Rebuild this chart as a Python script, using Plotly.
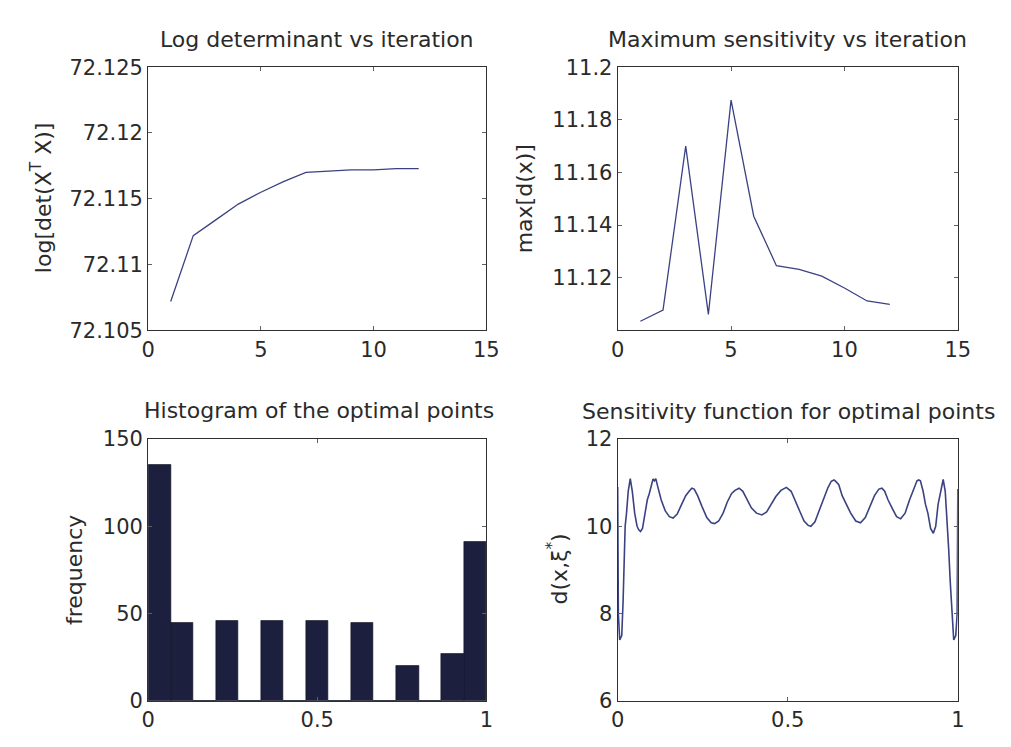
import numpy as np
import plotly.graph_objects as go

W, H = 1011, 747

# ---------------- data ----------------
iterations = [1, 2, 3, 4, 5, 6, 7, 8, 9, 10, 11, 12]
log_det = [72.1072, 72.1122, 72.1134, 72.1146, 72.1155, 72.1163,
           72.1170, 72.1171, 72.1172, 72.1172, 72.1173, 72.1173]
max_sens = [11.1035, 11.1077, 11.1700, 11.1061, 11.1875, 11.1434,
            11.1246, 11.1232, 11.1206, 11.1161, 11.1112, 11.1099]

hist_n_bins = 15
hist_counts = [135, 45, 0, 46, 0, 46, 0, 46, 0, 45, 0, 20, 0, 27, 91]

sens_x = [0.000, 0.002, 0.006, 0.012, 0.016, 0.022, 0.026, 0.031, 0.037, 0.043,
          0.050, 0.057, 0.062, 0.067, 0.073, 0.080, 0.087, 0.093, 0.100, 0.104,
          0.108, 0.112, 0.118, 0.128, 0.140, 0.152, 0.163, 0.175, 0.188, 0.200,
          0.210, 0.218, 0.225, 0.235, 0.248, 0.262, 0.275, 0.285, 0.297, 0.310,
          0.322, 0.335, 0.345, 0.357, 0.368, 0.380, 0.393, 0.408, 0.424, 0.438,
          0.452, 0.465, 0.480, 0.496, 0.510, 0.522, 0.535, 0.548, 0.560, 0.568,
          0.580, 0.592, 0.605, 0.618, 0.628, 0.636, 0.642, 0.650, 0.660, 0.672,
          0.685, 0.700, 0.714, 0.728, 0.742, 0.755, 0.768, 0.777, 0.785, 0.795,
          0.808, 0.820, 0.832, 0.845, 0.858, 0.870, 0.880, 0.885, 0.890, 0.898,
          0.905, 0.912, 0.920, 0.928, 0.935, 0.942, 0.950, 0.957, 0.963, 0.968,
          0.973, 0.978, 0.983, 0.988, 0.994, 0.998, 1.000]
sens_d = [10.90, 8.00, 7.40, 7.50, 8.30, 10.00, 10.30, 10.80, 11.09, 10.80,
          10.30, 10.00, 9.92, 9.88, 9.95, 10.30, 10.60, 10.75, 11.00, 11.08,
          11.04, 11.09, 10.90, 10.60, 10.35, 10.22, 10.19, 10.28, 10.50, 10.70,
          10.80, 10.87, 10.85, 10.70, 10.45, 10.20, 10.08, 10.06, 10.12, 10.30,
          10.55, 10.75, 10.82, 10.87, 10.80, 10.60, 10.42, 10.30, 10.26, 10.33,
          10.50, 10.68, 10.82, 10.89, 10.80, 10.60, 10.35, 10.12, 10.02, 10.00,
          10.10, 10.35, 10.62, 10.88, 11.03, 11.06, 11.02, 10.95, 10.70, 10.50,
          10.30, 10.12, 10.08, 10.20, 10.45, 10.70, 10.85, 10.87, 10.80, 10.60,
          10.40, 10.22, 10.17, 10.30, 10.60, 10.85, 11.04, 11.06, 11.04, 10.80,
          10.50, 10.30, 9.95, 9.84, 10.00, 10.50, 10.85, 11.07, 10.80, 10.20,
          9.50, 8.70, 8.00, 7.40, 7.50, 8.00, 10.85]

# tick labels
tl_x_ticks = [0, 5, 10, 15]
tl_y_ticks = [72.105, 72.11, 72.115, 72.12, 72.125]
tl_y_text = ["72.105", "72.11", "72.115", "72.12", "72.125"]
tr_y_ticks = [11.12, 11.14, 11.16, 11.18, 11.2]
tr_y_text = ["11.12", "11.14", "11.16", "11.18", "11.2"]
bl_y_ticks = [0, 50, 100, 150]
br_y_ticks = [6, 8, 10, 12]
b_x_ticks = [0, 0.5, 1]
b_x_text = ["0", "0.5", "1"]

titles = ["Log determinant vs iteration", "Maximum sensitivity vs iteration",
          "Histogram of the optimal points", "Sensitivity function for optimal points"]
ylabels = ["log[det(X<sup>T</sup> X)]", "max[d(x)]", "frequency", "d(x,ξ<sup>*</sup>)"]

# ---------------- layout helpers ----------------
FONT = "DejaVu Sans"
LINE_COL = "#3a4282"
BAR_COL = "#1c1f3d"
TXT = "#2a2a2a"


def px_x(p):
    return p / W


def px_y(p):
    return 1 - p / H


dom_left = [px_x(144), px_x(489)]
dom_right = [px_x(623), px_x(970)]
dom_top = [px_y(329), px_y(57)]
dom_bot = [px_y(712), px_y(441)]

hist_edges = np.linspace(0, 1, hist_n_bins + 1)
hist_centers = (hist_edges[:-1] + hist_edges[1:]) / 2
hist_width = hist_edges[1] - hist_edges[0]

fig = go.Figure()
fig.add_trace(go.Scatter(x=iterations, y=log_det, mode="lines",
                         line=dict(color=LINE_COL, width=1.3), xaxis="x", yaxis="y"))
fig.add_trace(go.Scatter(x=iterations, y=max_sens, mode="lines",
                         line=dict(color=LINE_COL, width=1.3), xaxis="x2", yaxis="y2"))
fig.add_trace(go.Bar(x=hist_centers, y=hist_counts, width=hist_width,
                     marker=dict(color=BAR_COL, line=dict(color="#0e1020", width=0.6)),
                     xaxis="x3", yaxis="y3"))
fig.add_trace(go.Scatter(x=sens_x, y=sens_d, mode="lines",
                         line=dict(color=LINE_COL, width=1.6), xaxis="x4", yaxis="y4"))

ax_common = dict(showline=True, linecolor="#303030", linewidth=1, mirror="ticks",
                 ticks="inside", ticklen=4, tickcolor="#606060", showgrid=False,
                 zeroline=False, tickfont=dict(family=FONT, size=21, color=TXT),
                 fixedrange=True)

fig.update_layout(
    width=W, height=H, showlegend=False,
    margin=dict(l=0, r=0, t=0, b=0),
    paper_bgcolor="white", plot_bgcolor="white",
    bargap=0,
    xaxis=dict(domain=dom_left, anchor="y", range=[0, 15], tickmode="array",
               tickvals=tl_x_ticks, **ax_common),
    yaxis=dict(domain=dom_top, anchor="x", range=[72.105, 72.125], tickmode="array",
               tickvals=tl_y_ticks, ticktext=tl_y_text, **ax_common),
    xaxis2=dict(domain=dom_right, anchor="y2", range=[0, 15], tickmode="array",
                tickvals=tl_x_ticks, **ax_common),
    yaxis2=dict(domain=dom_top, anchor="x2", range=[11.1, 11.2], tickmode="array",
                tickvals=tr_y_ticks, ticktext=tr_y_text, **ax_common),
    xaxis3=dict(domain=dom_left, anchor="y3", range=[0, 1], tickmode="array",
                tickvals=b_x_ticks, ticktext=b_x_text, **ax_common),
    yaxis3=dict(domain=dom_bot, anchor="x3", range=[0, 150], tickmode="array",
                tickvals=bl_y_ticks, **ax_common),
    xaxis4=dict(domain=dom_right, anchor="y4", range=[0, 1], tickmode="array",
                tickvals=b_x_ticks, ticktext=b_x_text, **ax_common),
    yaxis4=dict(domain=dom_bot, anchor="x4", range=[6, 12], tickmode="array",
                tickvals=br_y_ticks, **ax_common),
)

title_pos = [(316.5, 28.5), (796.5, 28.5), (318.5, 411.5), (797.5, 412.5)]
ylabel_pos = [(35, 192), (528, 193), (69, 577), (561, 575)]

for t, (x, y) in zip(titles, title_pos):
    fig.add_annotation(text=t, x=px_x(x), y=px_y(y), xref="paper", yref="paper",
                       xanchor="center", yanchor="middle", showarrow=False,
                       font=dict(family=FONT, size=22, color=TXT))
for t, (x, y) in zip(ylabels, ylabel_pos):
    fig.add_annotation(text=t, x=px_x(x), y=px_y(y), xref="paper", yref="paper",
                       xanchor="center", yanchor="middle", showarrow=False, textangle=-90,
                       font=dict(family=FONT, size=22, color=TXT))

fig.write_html("out.html")
